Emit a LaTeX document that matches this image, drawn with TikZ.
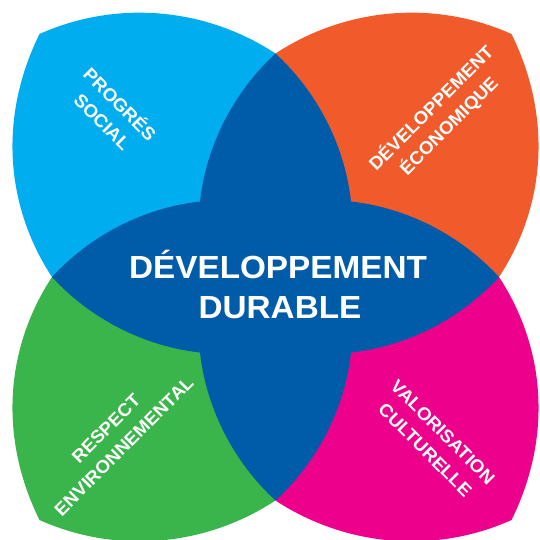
\documentclass[tikz,border=0pt]{standalone}
\usepackage{fontspec}
\newfontfamily\labfont{Liberation Sans}[FakeStretch=1.04]
\definecolor{cyanP}{RGB}{0,174,239}
\definecolor{orangeP}{RGB}{241,91,43}
\definecolor{greenP}{RGB}{58,181,75}
\definecolor{magentaP}{RGB}{236,0,140}
\definecolor{darkP}{RGB}{0,92,169}
\tikzset{
  petallabel/.style={text=white, align=center, inner sep=0pt,
    font=\labfont\bfseries\fontsize{18}{25}\selectfont},
  centrelabel/.style={text=white, inner sep=0pt, anchor=base,
    font=\labfont\bfseries\fontsize{32}{40}\selectfont}
}
\begin{document}
\begin{tikzpicture}[x=1pt,y=-1pt]
\useasboundingbox (0,0) rectangle (540,539);
\begin{scope}[shift={(275.5,277)}]
  % four petals (quadrant pieces, outer edges)
  \foreach \sx/\sy/\col in {1/1/cyanP, -1/1/orangeP, 1/-1/greenP, -1/-1/magentaP}{
    \fill[\col, xscale=\sx, yscale=\sy]
      (0,0) -- (-223.5,0)
      .. controls (-269.7,-70.4) and (-277.4,-159.1) .. (-236,-243)
      .. controls (-159.1,-277.4) and (-70.4,-269.7) .. (0,-223.5)
      -- cycle;
  }
  % central cross formed by the overlaps
  \fill[darkP]
    (0,-223.5)
    .. controls (-41.6,-185.2) and (-69.3,-131.8) .. (-75.5,-75.5)
    .. controls (-131.8,-69.3) and (-185.2,-41.6) .. (-223.5,0)
    .. controls (-185.2,41.6) and (-131.8,69.3) .. (-75.5,75.5)
    .. controls (-69.3,131.8) and (-41.6,185.2) .. (0,223.5)
    .. controls (41.6,185.2) and (69.3,131.8) .. (75.5,75.5)
    .. controls (131.8,69.3) and (185.2,41.6) .. (223.5,0)
    .. controls (185.2,-41.6) and (131.8,-69.3) .. (75.5,-75.5)
    .. controls (69.3,-131.8) and (41.6,-185.2) .. (0,-223.5)
    -- cycle;
\end{scope}
\node[centrelabel] (dev) at (278,278.3) {DÉVELOPPEMENT};
\node[centrelabel] (dur) at (280,318.3) {DURABLE};
\node[petallabel, rotate=-45] (social) at (112,112) {PROGRÉS\\SOCIAL};
\node[petallabel, rotate=45] (eco) at (440,117) {DÉVELOPPEMENT\\ÉCONOMIQUE};
\node[petallabel, rotate=45] (env) at (115,437.5) {RESPECT\\ENVIRONNEMENTAL};
\node[petallabel, rotate=-45] (cult) at (434,441) {VALORISATION\\CULTURELLE};
\end{tikzpicture}
\end{document}
